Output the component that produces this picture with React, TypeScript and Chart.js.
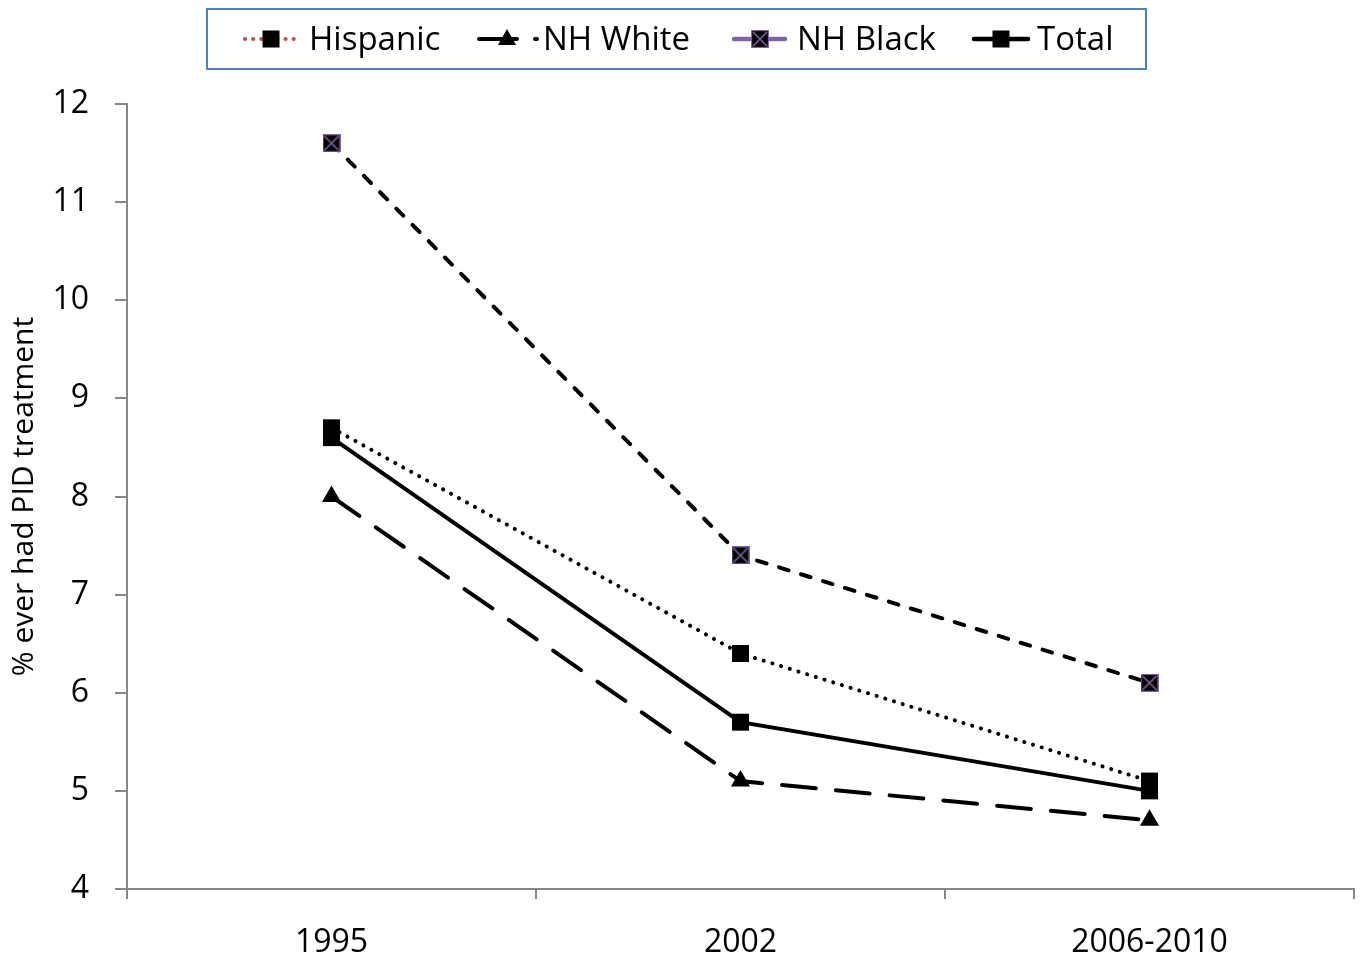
import React, { useEffect, useRef } from "react";
import { Chart, registerables } from "chart.js";

Chart.register(...registerables);

const categories = ["1995", "2002", "2006-2010"];
const hispanic = [8.7, 6.4, 5.1];
const nhWhite = [8.0, 5.1, 4.7];
const nhBlack = [11.6, 7.4, 6.1];
const total = [8.6, 5.7, 5.0];
const seriesNames = ["Hispanic", "NH White", "NH Black", "Total"];
const yTitle = "% ever had PID treatment";

const AXIS = "#868686";
const PURPLE = "#8064a2";
const RED = "#c0504d";
const FONT = "'Open Sans', 'Noto Sans', sans-serif";

let markerCache: HTMLCanvasElement | null = null;
function getBlackMarker(): HTMLCanvasElement {
  if (markerCache) return markerCache;
  const size = 18;
  const c = document.createElement("canvas");
  c.width = size;
  c.height = size;
  const ctx = c.getContext("2d")!;
  ctx.fillStyle = "#000";
  ctx.fillRect(0, 0, size, size);
  ctx.strokeStyle = PURPLE;
  ctx.lineWidth = 1.2;
  ctx.strokeRect(0.6, 0.6, size - 1.2, size - 1.2);
  ctx.lineWidth = 1.6;
  ctx.beginPath();
  ctx.moveTo(2, 2);
  ctx.lineTo(size - 2, size - 2);
  ctx.moveTo(size - 2, 2);
  ctx.lineTo(2, size - 2);
  ctx.stroke();
  markerCache = c;
  return c;
}

function drawSquare(ctx: CanvasRenderingContext2D, x: number, y: number, s: number) {
  ctx.fillStyle = "#000";
  ctx.fillRect(x - s / 2, y - s / 2, s, s);
}

const legendPlugin = {
  id: "customLegend",
  afterDraw(chart: any) {
    const ctx: CanvasRenderingContext2D = chart.ctx;
    const marker = getBlackMarker();
    ctx.save();
    ctx.strokeStyle = "#4f81bd";
    ctx.lineWidth = 2;
    ctx.strokeRect(207, 9, 939, 60);
    const cy = 39;
    ctx.lineCap = "round";

    // Hispanic
    ctx.strokeStyle = RED;
    ctx.lineWidth = 4;
    ctx.setLineDash([0.1, 8]);
    ctx.beginPath();
    ctx.moveTo(245, cy);
    ctx.lineTo(298, cy);
    ctx.stroke();
    ctx.setLineDash([]);
    drawSquare(ctx, 271, cy, 17);

    // NH White
    ctx.strokeStyle = "#000";
    ctx.lineWidth = 4;
    ctx.setLineDash([38, 18]);
    ctx.beginPath();
    ctx.moveTo(479, cy);
    ctx.lineTo(537, cy);
    ctx.stroke();
    ctx.setLineDash([]);
    ctx.fillStyle = "#000";
    ctx.beginPath();
    ctx.moveTo(507, cy - 10);
    ctx.lineTo(516, cy + 6);
    ctx.lineTo(498, cy + 6);
    ctx.closePath();
    ctx.fill();

    // NH Black
    ctx.strokeStyle = PURPLE;
    ctx.lineWidth = 4.5;
    ctx.beginPath();
    ctx.moveTo(734, cy);
    ctx.lineTo(750, cy);
    ctx.moveTo(770, cy);
    ctx.lineTo(785, cy);
    ctx.stroke();
    ctx.drawImage(marker, 760 - 9, cy - 9, 18, 18);

    // Total
    ctx.strokeStyle = "#000";
    ctx.lineWidth = 4.5;
    ctx.beginPath();
    ctx.moveTo(974, cy);
    ctx.lineTo(1028, cy);
    ctx.stroke();
    drawSquare(ctx, 1001, cy, 17);

    ctx.fillStyle = "#000";
    ctx.font = `33px ${FONT}`;
    ctx.textAlign = "left";
    ctx.textBaseline = "middle";
    ctx.fillText(seriesNames[0], 309, cy + 2);
    ctx.fillText(seriesNames[1], 543, cy + 2);
    ctx.fillText(seriesNames[2], 797, cy + 2);
    ctx.fillText(seriesNames[3], 1037, cy + 2);
    ctx.restore();
  },
};

export default function App() {
  const ref = useRef<HTMLCanvasElement>(null);

  useEffect(() => {
    if (!ref.current) return;
    const blackMarker = getBlackMarker();
    const common = {
      borderColor: "#000",
      backgroundColor: "#000",
      borderWidth: 4,
      pointBorderWidth: 0,
      borderCapStyle: "round" as const,
      tension: 0,
      fill: false,
    };
    const chart = new Chart(ref.current, {
      type: "line",
      data: {
        labels: categories,
        datasets: [
          {
            ...common,
            label: seriesNames[0],
            data: hispanic,
            borderDash: [0.1, 9],
            pointStyle: "rect",
            pointRadius: 12,
          },
          {
            ...common,
            label: seriesNames[1],
            data: nhWhite,
            borderDash: [34, 20],
            pointStyle: "triangle",
            pointRadius: 11,
          },
          {
            ...common,
            label: seriesNames[2],
            data: nhBlack,
            borderDash: [10, 13],
            pointStyle: blackMarker,
            pointRadius: 9,
          },
          {
            ...common,
            label: seriesNames[3],
            data: total,
            pointStyle: "rect",
            pointRadius: 12,
          },
        ],
      },
      options: {
        responsive: false,
        animation: false,
        layout: { autoPadding: false, padding: { top: 104, left: 0, right: 8, bottom: 0 } },
        plugins: {
          legend: { display: false },
          tooltip: { enabled: false },
        },
        scales: {
          x: {
            type: "category",
            offset: true,
            grid: {
              offset: true,
              drawOnChartArea: false,
              drawTicks: true,
              tickLength: 10,
              color: AXIS,
              lineWidth: 2,
            },
            border: { color: AXIS, width: 2 },
            ticks: {
              color: "#000",
              font: { family: FONT, size: 32 },
              padding: 25,
              maxRotation: 0,
            },
            afterFit: (s: any) => {
              s.height = 71;
            },
          },
          y: {
            min: 4,
            max: 12,
            ticks: {
              stepSize: 1,
              color: "#000",
              font: { family: FONT, size: 32 },
              padding: 26,
            },
            grid: {
              drawOnChartArea: false,
              drawTicks: true,
              tickLength: 12,
              color: AXIS,
              lineWidth: 2,
            },
            border: { color: AXIS, width: 2 },
            title: {
              display: true,
              text: yTitle,
              color: "#000",
              font: { family: FONT, size: 30 },
              padding: { top: 6, bottom: 0 },
            },
            afterFit: (s: any) => {
              s.width = 127;
            },
          },
        },
      },
      plugins: [legendPlugin],
    });
    return () => chart.destroy();
  }, []);

  return (
    <div style={{ position: "fixed", left: 0, top: 0, width: 1362, height: 960, background: "#fff" }}>
      <canvas ref={ref} width={1362} height={960} style={{ width: 1362, height: 960 }} />
    </div>
  );
}
